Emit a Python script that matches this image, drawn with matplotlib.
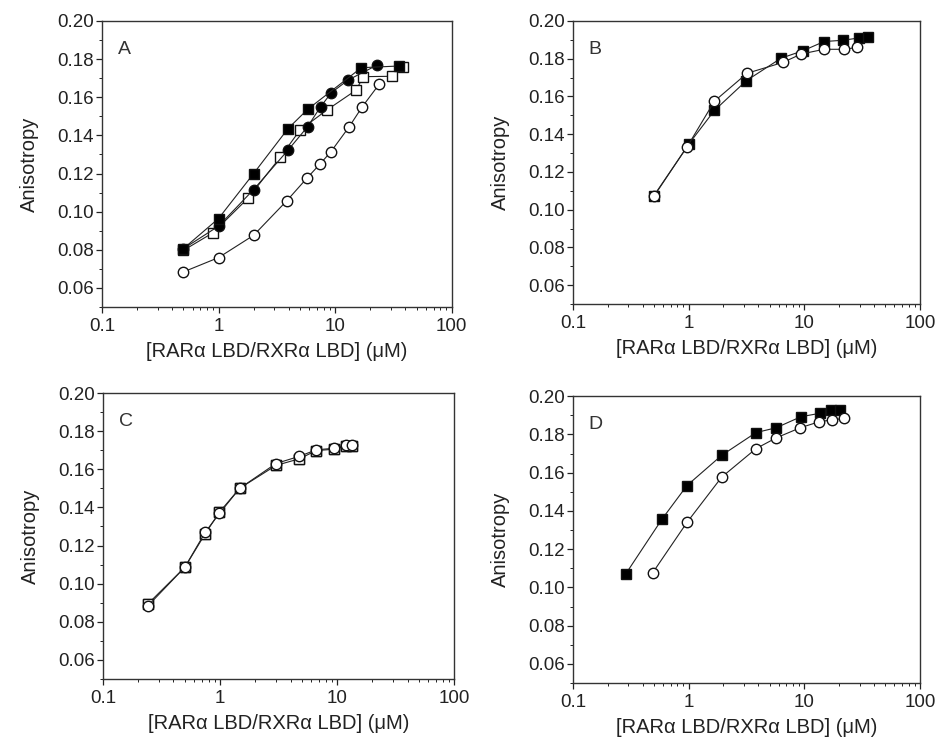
import matplotlib
matplotlib.use("Agg")
import matplotlib.pyplot as plt
from matplotlib.ticker import FixedLocator, LogLocator, NullFormatter, MultipleLocator

plt.rcParams['font.family'] = ['Liberation Sans', 'DejaVu Sans']

# ---------------- data ----------------
# Panel A
a_fsq_x = [0.5, 1.0, 2.0, 3.95, 5.8, 16.8, 35.5]
a_fsq_y = [0.0806, 0.0964, 0.120, 0.1436, 0.1536, 0.1755, 0.1764]
a_fci_x = [0.5, 1.0, 2.0, 3.95, 5.8, 7.5, 9.3, 12.9, 23.0]
a_fci_y = [0.0806, 0.0924, 0.1116, 0.1323, 0.1445, 0.155, 0.1624, 0.169, 0.1769]
a_osq_x = [0.5, 0.9, 1.8, 3.4, 5.0, 8.5, 15.2, 17.4, 31.0, 38.0]
a_osq_y = [0.0797, 0.089, 0.1072, 0.1287, 0.1428, 0.1533, 0.1638, 0.1708, 0.1710, 0.1760]
a_oci_x = [0.5, 1.0, 2.0, 3.85, 5.7, 7.4, 9.2, 13.2, 17.1, 24.0]
a_oci_y = [0.0684, 0.0759, 0.0876, 0.1057, 0.1174, 0.1249, 0.1314, 0.1445, 0.155, 0.167]

# Panel B
b_fsq_x = [0.5, 1.0, 1.67, 3.16, 6.3, 9.7, 14.8, 21.7, 29.6, 35.5]
b_fsq_y = [0.107, 0.1347, 0.1526, 0.1684, 0.1803, 0.1842, 0.1891, 0.1898, 0.191, 0.1916]
b_oci_x = [0.5, 0.97, 1.67, 3.2, 6.5, 9.4, 14.8, 22.0, 28.6]
b_oci_y = [0.1074, 0.1333, 0.1575, 0.1723, 0.178, 0.1825, 0.185, 0.185, 0.186]

# Panel C
c_x = [0.243, 0.50, 0.747, 0.987, 1.47, 3.0, 4.76, 6.63, 9.36, 11.8, 13.5]
c_fsq_y = [0.0895, 0.1086, 0.1262, 0.1375, 0.150, 0.1620, 0.1655, 0.1698, 0.1705, 0.1720, 0.1722]
c_oci_y = [0.0885, 0.1086, 0.1270, 0.1368, 0.150, 0.1630, 0.1668, 0.1702, 0.1710, 0.1728, 0.1728]

# Panel D
d_fsq_x = [0.287, 0.588, 0.967, 1.93, 3.82, 5.7, 9.35, 13.7, 17.0, 20.5]
d_fsq_y = [0.1072, 0.1357, 0.1533, 0.1691, 0.181, 0.1835, 0.1893, 0.1911, 0.1928, 0.1928]
d_oci_x = [0.488, 0.967, 1.93, 3.82, 5.7, 9.2, 13.5, 17.2, 21.8]
d_oci_y = [0.1076, 0.134, 0.1577, 0.1726, 0.1782, 0.1835, 0.1867, 0.1876, 0.1884]

y_ticks = [0.06, 0.08, 0.10, 0.12, 0.14, 0.16, 0.18, 0.20]
y_labels = ["0.06", "0.08", "0.10", "0.12", "0.14", "0.16", "0.18", "0.20"]
x_ticks = [0.1, 1, 10, 100]
x_labels = ["0.1", "1", "10", "100"]
xlabel = "[RARα LBD/RXRα LBD] (μM)"
ylabel = "Anisotropy"

# ---------------- figure ----------------
fig = plt.figure(figsize=(9.39, 7.39), dpi=100)
positions = {
    'A': [0.1086, 0.5846, 0.3724, 0.3870],
    'B': [0.6102, 0.5886, 0.3696, 0.3830],
    'C': [0.1097, 0.0812, 0.3740, 0.3870],
    'D': [0.6102, 0.0758, 0.3696, 0.3880],
}

lc = '#222222'
sq = dict(marker='s', markersize=6.5, markeredgewidth=1.0, markeredgecolor='#111111',
          linewidth=0.8, color=lc)
ci = dict(marker='o', markersize=7.5, markeredgewidth=1.0, markeredgecolor='#111111',
          linewidth=0.8, color=lc)


def style(ax, letter):
    ax.set_xscale('log')
    ax.set_xlim(0.1, 100)
    ax.set_ylim(0.05, 0.20)
    ax.xaxis.set_major_locator(FixedLocator(x_ticks))
    ax.set_xticklabels(x_labels)
    ax.xaxis.set_minor_locator(LogLocator(base=10, subs=range(2, 10)))
    ax.xaxis.set_minor_formatter(NullFormatter())
    ax.yaxis.set_major_locator(FixedLocator(y_ticks))
    ax.set_yticklabels(y_labels)
    ax.yaxis.set_minor_locator(MultipleLocator(0.01))
    ax.tick_params(which='major', direction='out', length=4, width=0.9,
                   labelsize=13.5, colors='#222222', pad=2)
    ax.tick_params(axis='x', which='major', pad=4)
    ax.tick_params(which='minor', direction='out', length=2, width=0.7, colors='#222222')
    for s in ax.spines.values():
        s.set_linewidth(1.0)
        s.set_color('#333333')
    ax.set_xlabel(xlabel, fontsize=14.5, color='#222222', labelpad=5)
    ax.set_ylabel(ylabel, fontsize=14.5, color='#222222', labelpad=13)
    ax.text(0.045, 0.93, letter, transform=ax.transAxes, fontsize=14,
            color='#333333', va='top', ha='left')


axA = fig.add_axes(positions['A'])
axA.plot(a_oci_x, a_oci_y, markerfacecolor='white', **ci)
axA.plot(a_osq_x, a_osq_y, markerfacecolor='white', **sq)
axA.plot(a_fci_x, a_fci_y, markerfacecolor='black', **ci)
axA.plot(a_fsq_x, a_fsq_y, markerfacecolor='black', **sq)
style(axA, 'A')

axB = fig.add_axes(positions['B'])
axB.plot(b_fsq_x, b_fsq_y, markerfacecolor='black', **sq)
axB.plot(b_oci_x, b_oci_y, markerfacecolor='white', **ci)
style(axB, 'B')

axC = fig.add_axes(positions['C'])
axC.plot(c_x, c_fsq_y, markerfacecolor='black', **sq)
axC.plot(c_x, c_fsq_y, linestyle='none', marker='s', markersize=6.5,
         markerfacecolor='white', markeredgecolor='#111111')
axC.plot(c_x, c_oci_y, markerfacecolor='white', **ci)
style(axC, 'C')

axD = fig.add_axes(positions['D'])
axD.plot(d_fsq_x, d_fsq_y, markerfacecolor='black', **sq)
axD.plot(d_oci_x, d_oci_y, markerfacecolor='white', **ci)
style(axD, 'D')

fig.savefig('out.png', dpi=100)
